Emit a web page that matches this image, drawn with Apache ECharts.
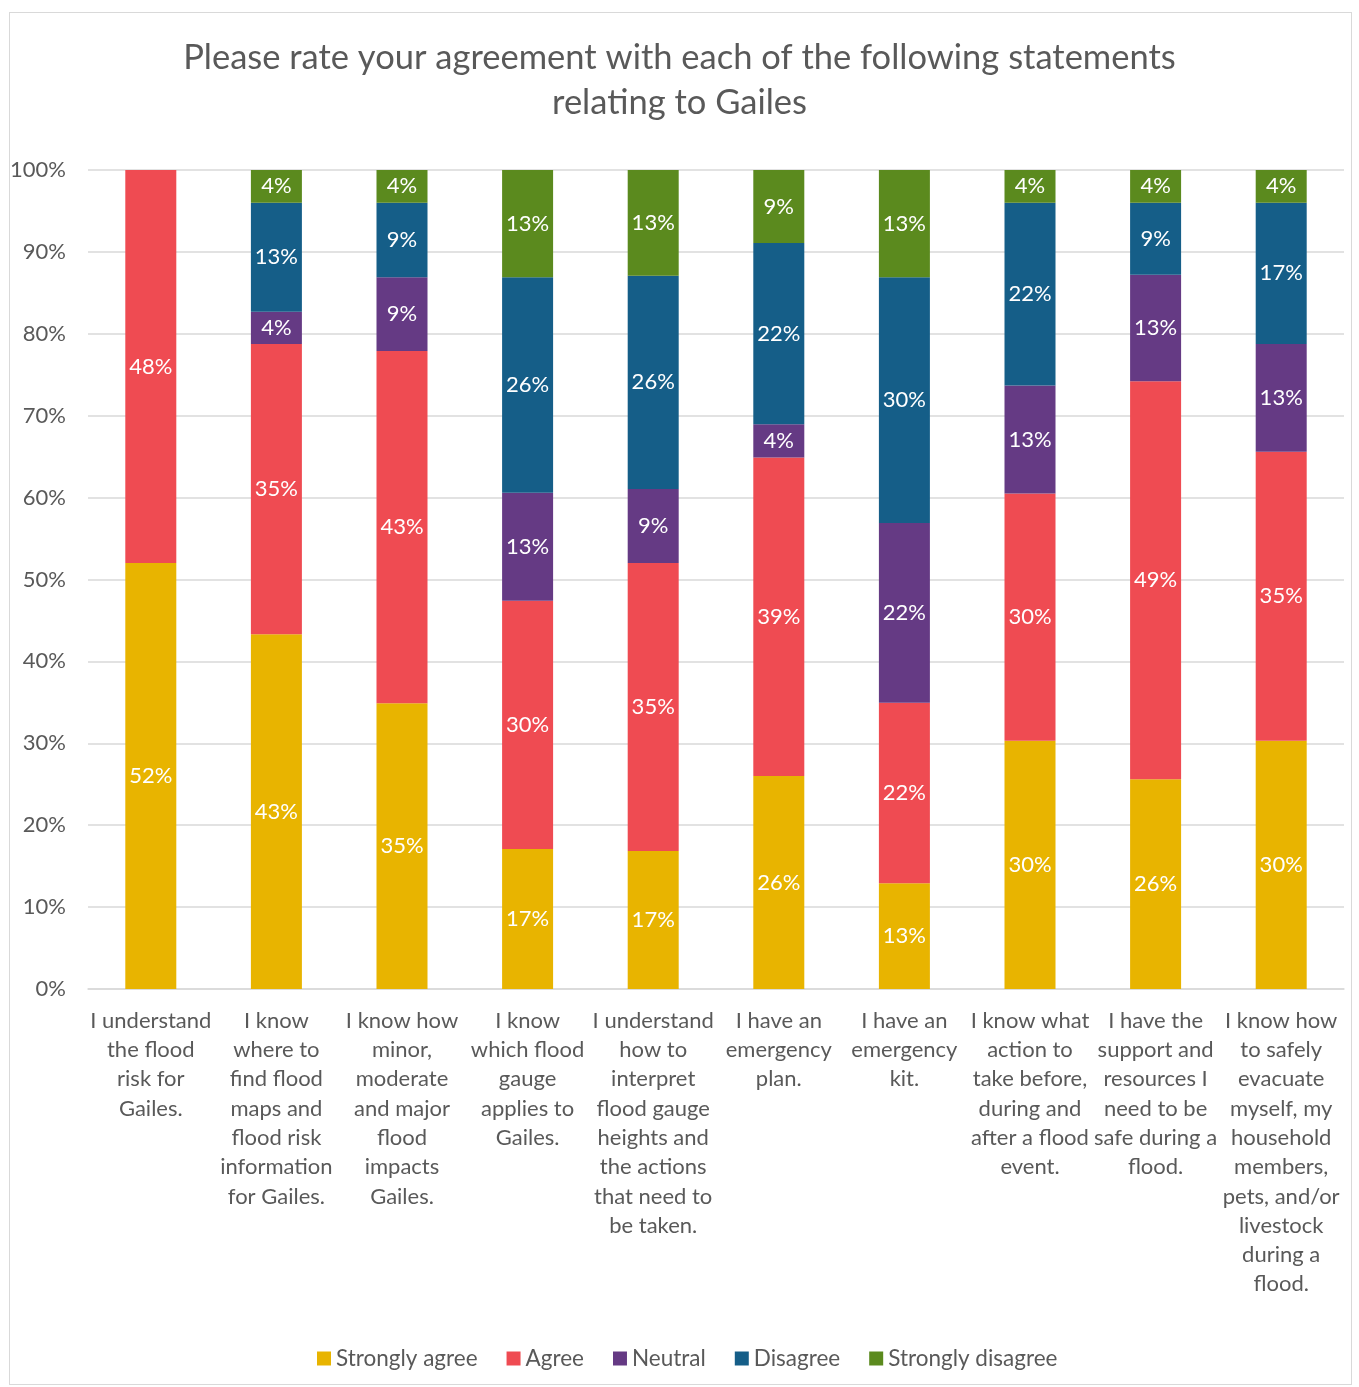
<!DOCTYPE html>
<html>
<head>
<meta charset="utf-8">
<script src="https://cdn.jsdelivr.net/npm/echarts@6/dist/echarts.min.js"></script>
<style>
  html, body { margin: 0; padding: 0; background: #fff; }
  #frame { position: absolute; left: 9px; top: 12px; width: 1343px; height: 1373px; border: 1px solid #d9d9d9; box-sizing: border-box; }
  #chart { position: absolute; left: 0; top: 0; width: 1359px; height: 1387px; }
</style>
</head>
<body>
<div id="frame"></div>
<div id="chart"></div>
<script>
// Survey statements (line breaks follow the printed wrapping)
const categories = [
  'I understand\nthe flood\nrisk for\nGailes.',
  'I know\nwhere to\nfind flood\nmaps and\nflood risk\ninformation\nfor Gailes.',
  'I know how\nminor,\nmoderate\nand major\nflood\nimpacts\nGailes.',
  'I know\nwhich flood\ngauge\napplies to\nGailes.',
  'I understand\nhow to\ninterpret\nflood gauge\nheights and\nthe actions\nthat need to\nbe taken.',
  'I have an\nemergency\nplan.',
  'I have an\nemergency\nkit.',
  'I know what\naction to\ntake before,\nduring and\nafter a flood\nevent.',
  'I have the\nsupport and\nresources I\nneed to be\nsafe during a\nflood.',
  'I know how\nto safely\nevacuate\nmyself, my\nhousehold\nmembers,\npets, and/or\nlivestock\nduring a\nflood.'
];

// Share of respondents (%) per response
const stronglyAgree    = [52.0, 43.3, 34.9, 17.1, 16.85, 26.0, 12.9, 30.3, 25.6, 30.3];
const agree            = [48.0, 35.45, 43.0, 30.3, 35.15, 38.9, 22.05, 30.2, 48.6, 35.3];
const neutral          = [0,    3.95,  9.0, 13.2,  9.05,  4.05, 21.95, 13.2, 13.0, 13.15];
const disagree         = [0,   13.3,   9.1, 26.3, 26.05, 22.15, 30.0, 22.3,  8.8, 17.25];
const stronglyDisagree = [0,    4.0,   4.0, 13.1, 12.9,   8.9, 13.1,  4.0,  4.0,  4.0];

const yTicks = { min: 0, max: 100, interval: 10 };

const FONT = 'Lato';
const GREY = '#595959';

const seriesDefs = [
  { name: 'Strongly agree',    data: stronglyAgree,    color: '#E8B400' },
  { name: 'Agree',             data: agree,            color: '#EF4B52' },
  { name: 'Neutral',           data: neutral,          color: '#653A84' },
  { name: 'Disagree',          data: disagree,         color: '#155E88' },
  { name: 'Strongly disagree', data: stronglyDisagree, color: '#5B8A1E' }
];

const chart = echarts.init(document.getElementById('chart'), null, { renderer: 'canvas' });

chart.setOption({
  animation: false,
  textStyle: { fontFamily: FONT },
  title: {
    text: 'Please rate your agreement with each of the following statements\nrelating to Gailes',
    left: 'center',
    top: 30,
    textStyle: { fontFamily: FONT, fontSize: 34.5, fontWeight: 'normal', color: GREY, lineHeight: 45 }
  },
  legend: {
    top: 1342,
    left: 312,
    itemWidth: 14,
    itemHeight: 14,
    itemGap: 29,
    icon: 'rect',
    textStyle: { fontFamily: FONT, fontSize: 22.5, color: GREY },
    data: seriesDefs.map(s => s.name)
  },
  grid: { left: 88, right: 15, top: 170, bottom: 398, containLabel: false },
  xAxis: {
    type: 'category',
    data: categories,
    axisLine: { lineStyle: { color: '#d9d9d9', width: 1.5 } },
    axisTick: { show: false },
    axisLabel: {
      interval: 0,
      margin: 17,
      fontFamily: FONT,
      fontSize: 22,
      lineHeight: 29.3,
      color: GREY,
      align: 'center'
    }
  },
  yAxis: {
    type: 'value',
    min: yTicks.min,
    max: yTicks.max,
    interval: yTicks.interval,
    axisLine: { show: false },
    axisTick: { show: false },
    splitLine: { lineStyle: { color: '#d9d9d9', width: 1.5 } },
    axisLabel: {
      margin: 22,
      fontFamily: FONT,
      fontSize: 22,
      color: GREY,
      formatter: '{value}%'
    }
  },
  series: seriesDefs.map(s => ({
    name: s.name,
    type: 'bar',
    stack: 'total',
    barWidth: 51,
    data: s.data,
    itemStyle: { color: s.color },
    label: {
      show: true,
      position: 'inside',
      color: '#fff',
      fontFamily: FONT,
      fontSize: 22,
      formatter: p => (p.value > 0 ? Math.round(p.value) + '%' : '')
    }
  }))
});
</script>
</body>
</html>
